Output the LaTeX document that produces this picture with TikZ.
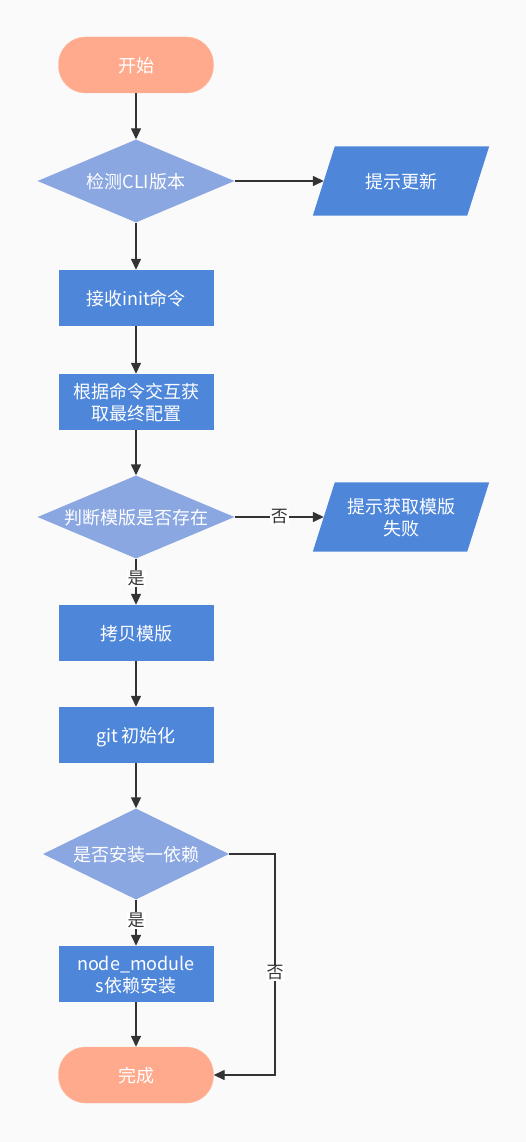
\documentclass[tikz,border=0pt]{standalone}
\usepackage{fontspec}
\newfontfamily\cjk{Noto Sans CJK SC}
\usetikzlibrary{shapes.geometric,arrows.meta,backgrounds}
\definecolor{bgcol}{HTML}{FAFAFA}
\definecolor{salmon}{HTML}{FFAA8C}
\definecolor{diablue}{HTML}{8AA7E1}
\definecolor{boxblue}{HTML}{4E86DA}
\definecolor{arrgray}{HTML}{333333}
\begin{document}
\begin{tikzpicture}[x=1pt,y=-1pt,
  base/.style={text=white, align=center, inner sep=0pt, text depth=-4pt, font=\cjk\fontsize{18}{22}\selectfont},
  term/.style={base, rectangle, rounded corners=27pt, fill=salmon, draw=salmon!80!white, minimum width=155, minimum height=56},
  proc/.style={base, rectangle, fill=boxblue, minimum width=155, minimum height=56},
  dec/.style={base, diamond, fill=diablue, aspect=2.37, minimum width=197, minimum height=83},
  io/.style={base, rectangle, minimum width=154, minimum height=69},
  arr/.style={draw=arrgray, line width=1.4pt, -{Triangle[length=11pt,width=10pt]}},
  lbl/.style={fill=white, text=arrgray, inner sep=1pt, font=\cjk\fontsize{17}{20}\selectfont}
]
\useasboundingbox (0,0) rectangle (526,1142);

\node[term] (start) at (136,65) {开始};
\node[dec] (d1) at (136,181) {检测CLI版本};
\node[io] (p1) at (401,181) {提示更新};
\node[proc] (b1) at (136,298) {接收init命令};
\node[proc] (b2) at (136,402) {根据命令交互获\\取最终配置};
\node[dec] (d2) at (136,517) {判断模版是否存在};
\node[io] (p2) at (401,517) {提示获取模版\\失败};
\node[proc] (b3) at (136,633) {拷贝模版};
\node[proc] (b4) at (136,735) {git 初始化};
\node[dec, minimum width=186, minimum height=91, aspect=2.04] (d3) at (136,854) {是否安装一依赖};
\node[proc] (b5) at (136,974) {node\_module\\s依赖安装};
\node[term] (end) at (136,1075) {完成};

\begin{scope}[on background layer]
  \fill[bgcol] (0,0) rectangle (526,1142);
  \fill[boxblue] ([xshift=11pt]p1.north west) -- ([xshift=11pt]p1.north east)
     -- ([xshift=-11pt]p1.south east) -- ([xshift=-11pt]p1.south west) -- cycle;
  \fill[boxblue] ([xshift=11pt]p2.north west) -- ([xshift=11pt]p2.north east)
     -- ([xshift=-11pt]p2.south east) -- ([xshift=-11pt]p2.south west) -- cycle;
\end{scope}

\draw[arr] (start) -- (d1);
\draw[arr] (d1.east) -- (p1.west);
\draw[arr] (d1) -- (b1);
\draw[arr] (b1) -- (b2);
\draw[arr] (b2) -- (d2);
\draw[arr] (d2.east) -- node[lbl] (no1) {否} (p2.west);
\draw[arr] (d2) -- node[lbl, yshift=3pt] (yes1) {是} (b3);
\draw[arr] (b3) -- (b4);
\draw[arr] (b4) -- (d3);
\draw[arr] (d3) -- node[lbl, yshift=2pt] (yes2) {是} (b5);
\draw[arr] (b5) -- (end);
\coordinate (loop) at (275,854);
\draw[arr] (d3.east) -- (loop) |- (end.east);
\node[lbl] (no2) at (275,973) {否};
\end{tikzpicture}
\end{document}
